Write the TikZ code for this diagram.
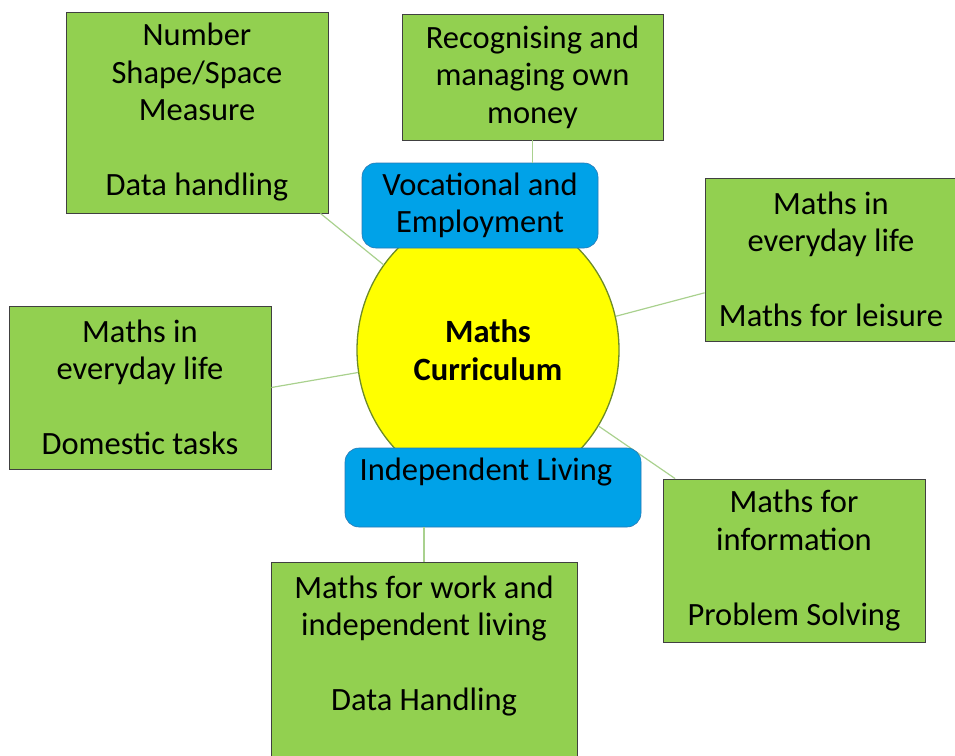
\documentclass[tikz,border=0pt]{standalone}
\usepackage{fontspec}
\setmainfont{Carlito}
\usetikzlibrary{shapes}
\definecolor{leaf}{RGB}{146,208,80}
\definecolor{sky}{RGB}{0,162,232}
\definecolor{skyline}{RGB}{40,120,180}
\definecolor{olive}{RGB}{110,140,40}
\definecolor{sun}{RGB}{255,255,0}
\definecolor{twig}{RGB}{169,209,142}
\begin{document}
\begin{tikzpicture}[x=1pt,y=-1pt,font=\fontsize{32.5}{37.5}\selectfont]
\tikzstyle{topic}=[draw=black!75,line width=0.8pt,fill=leaf,inner sep=0pt,align=center]
\tikzstyle{theme}=[draw=skyline,line width=0.6pt,fill=sky,rounded corners=14pt,inner sep=0pt,align=center]
\tikzstyle{hub}=[ellipse,draw=olive,line width=1.3pt,fill=sun,inner sep=0pt,align=center]
\tikzstyle{link}=[draw=twig,line width=1.2pt]
\useasboundingbox (0,0) rectangle (955,755);
\node[topic,minimum width=262,minimum height=201] (num) at (197,112.5) {Number\\Shape/Space\\Measure\\ ~\\Data handling};
\node[topic,minimum width=261,minimum height=126] (money) at (532.5,77) {Recognising and\\managing own\\money};
\node[topic,minimum width=252,minimum height=163] (life) at (831,259.5) {Maths in\\everyday life\\ ~\\Maths for leisure};
\node[topic,minimum width=262,minimum height=163] (home) at (140,387.5) {Maths in\\everyday life\\ ~\\Domestic tasks};
\node[topic,minimum width=262,minimum height=163] (info) at (794,560.5) {Maths for\\information\\ ~\\Problem Solving};
\node[topic,minimum width=306,minimum height=237] (work) at (424,680.5) {Maths for work and\\independent living\\ ~\\Data Handling\\ ~\\ ~};
\node[hub,minimum width=262,minimum height=280] (maths) at (488,350) {\bfseries Maths\\\bfseries Curriculum};
\path[link] (num) edge (maths)
            (life) edge (maths)
            (home.east) edge (maths)
            (info) edge (maths);
\node[theme,minimum width=236,minimum height=85] (voc) at (480,205.5) {Vocational and\\Employment};
\node[theme,minimum width=296,minimum height=79] (indep) at (493,487.5) {Independent Living\hspace*{14pt}\\ ~};
\path[link] (money.south) edge (money.south |- voc.north)
            (work.north) edge (work.north |- indep.south);
\end{tikzpicture}
\end{document}
